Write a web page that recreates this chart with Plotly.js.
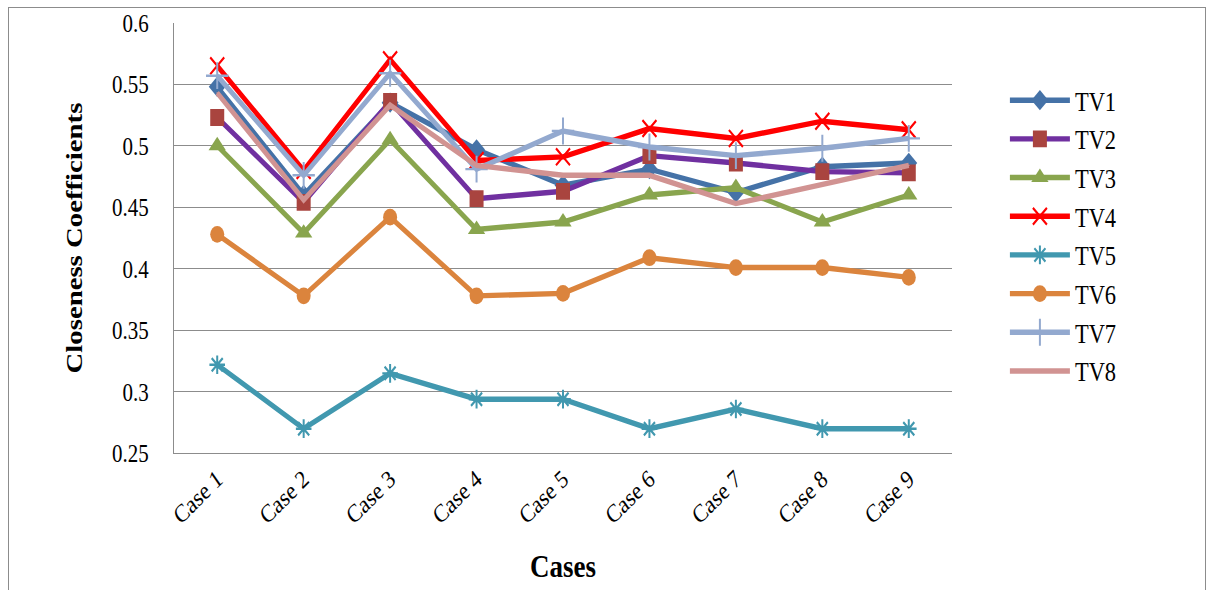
<!DOCTYPE html>
<html>
<head>
<meta charset="utf-8">
<script src="https://cdn.plot.ly/plotly-3.0.1.min.js"></script>
<style>
  html, body { margin: 0; padding: 0; background: #fff; overflow: hidden; }
  #wrap { position: relative; width: 1209px; height: 590px; overflow: hidden; }
  #frame { position: absolute; left: 8px; top: 7px; width: 1198px; height: 620px;
           border: 1px solid #8c8c8c; box-sizing: border-box; pointer-events: none; }
  /* the chart is laid out at 492px tall and stretched to the full 590px height */
  #chart { position: absolute; left: 0; top: 0; width: 1209px; height: 492px;
           transform: scale(1, 1.1992); transform-origin: 0 0; }
</style>
</head>
<body>
<div id="wrap">
  <div id="chart"></div>
  <div id="frame"></div>
</div>
<script>
// Closeness coefficients of eight TVs across nine cases
const cases = ["Case 1", "Case 2", "Case 3", "Case 4", "Case 5", "Case 6", "Case 7", "Case 8", "Case 9"];
const seriesNames = ["TV1", "TV2", "TV3", "TV4", "TV5", "TV6", "TV7", "TV8"];

const tv1 = [0.548, 0.460, 0.535, 0.497, 0.468, 0.481, 0.462, 0.483, 0.486];
const tv2 = [0.523, 0.454, 0.536, 0.457, 0.463, 0.492, 0.486, 0.479, 0.478];
const tv3 = [0.500, 0.429, 0.505, 0.432, 0.438, 0.460, 0.466, 0.438, 0.460];
const tv4 = [0.565, 0.480, 0.570, 0.488, 0.491, 0.514, 0.506, 0.520, 0.513];
const tv5 = [0.322, 0.270, 0.315, 0.294, 0.294, 0.270, 0.286, 0.270, 0.270];
const tv6 = [0.428, 0.378, 0.442, 0.378, 0.380, 0.409, 0.401, 0.401, 0.393];
const tv7 = [0.557, 0.476, 0.559, 0.481, 0.512, 0.499, 0.492, 0.498, 0.506];
const tv8 = [0.543, 0.456, 0.533, 0.484, 0.476, 0.476, 0.453, 0.468, 0.484];

const yTicks = [0.25, 0.3, 0.35, 0.4, 0.45, 0.5, 0.55, 0.6];
const yTickText = ["0.25", "0.3", "0.35", "0.4", "0.45", "0.5", "0.55", "0.6"];

const serif = "Liberation Serif";

// line colour, marker colour, marker symbol, marker size, marker outline width
const styles = [
  { line: "#4572A7", mk: "#4572A7", sym: "diamond",         size: 13, lw: 0 },
  { line: "#7030A0", mk: "#A9443F", sym: "square",          size: 14, lw: 0 },
  { line: "#89A54E", mk: "#89A54E", sym: "triangle-up",     size: 15, lw: 0 },
  { line: "#FF0000", mk: "#FF0000", sym: "x-thin-open",     size: 14, lw: 2 },
  { line: "#4198AF", mk: "#4198AF", sym: "asterisk-open",   size: 13, lw: 2 },
  { line: "#DB843D", mk: "#DB843D", sym: "circle",          size: 14, lw: 0 },
  { line: "#93A9CF", mk: "#93A9CF", sym: "cross-thin-open", size: 16, lw: 2 },
  { line: "#D19392", mk: "#D19392", sym: "line-ew-open",    size: 1,  lw: 0 }
];

const values = [tv1, tv2, tv3, tv4, tv5, tv6, tv7, tv8];

const traces = values.map((v, i) => ({
  type: "scatter",
  mode: "lines+markers",
  name: seriesNames[i],
  x: cases,
  y: v,
  line: { color: styles[i].line, width: 4.5 },
  marker: {
    symbol: styles[i].sym,
    size: styles[i].size,
    color: styles[i].mk,
    line: { color: styles[i].mk, width: styles[i].lw }
  }
}));

const layout = {
  width: 1209,
  height: 492,
  paper_bgcolor: "#ffffff",
  plot_bgcolor: "#ffffff",
  margin: { l: 174, r: 257, t: 19, b: 114 },
  font: { family: serif, size: 21, color: "#000" },
  showlegend: true,
  legend: {
    x: 1.068, y: 0.879, xanchor: "left", yanchor: "top",
    font: { family: serif, size: 22.5, color: "#000" },
    traceorder: "normal",
    itemwidth: 60,
    bgcolor: "rgba(0,0,0,0)"
  },
  xaxis: {
    type: "category",
    tickangle: -40,
    showgrid: false,
    showline: true,
    linecolor: "#8c8c8c",
    linewidth: 1,
    ticks: "",
    tickfont: { family: serif, size: 21, color: "#000" },
    range: [-0.5, 8.5],
    title: { text: "<b>Cases</b>", font: { family: serif, size: 27, color: "#000" }, standoff: 21 }
  },
  yaxis: {
    range: [0.25, 0.6],
    tickvals: yTicks,
    ticktext: yTickText,
    showgrid: true,
    gridcolor: "#8c8c8c",
    gridwidth: 1,
    showline: true,
    linecolor: "#8c8c8c",
    linewidth: 1,
    zeroline: false,
    ticks: "",
    ticklen: 0,
    ticklabelstandoff: 20,
    tickfont: { family: serif, size: 21, color: "#000" },
    title: { text: "<b>Closeness Coefficients</b>", font: { family: serif, size: 24, color: "#000" }, standoff: 22 }
  }
};

Plotly.newPlot("chart", traces, layout, { displayModeBar: false, staticPlot: true });
</script>
</body>
</html>
